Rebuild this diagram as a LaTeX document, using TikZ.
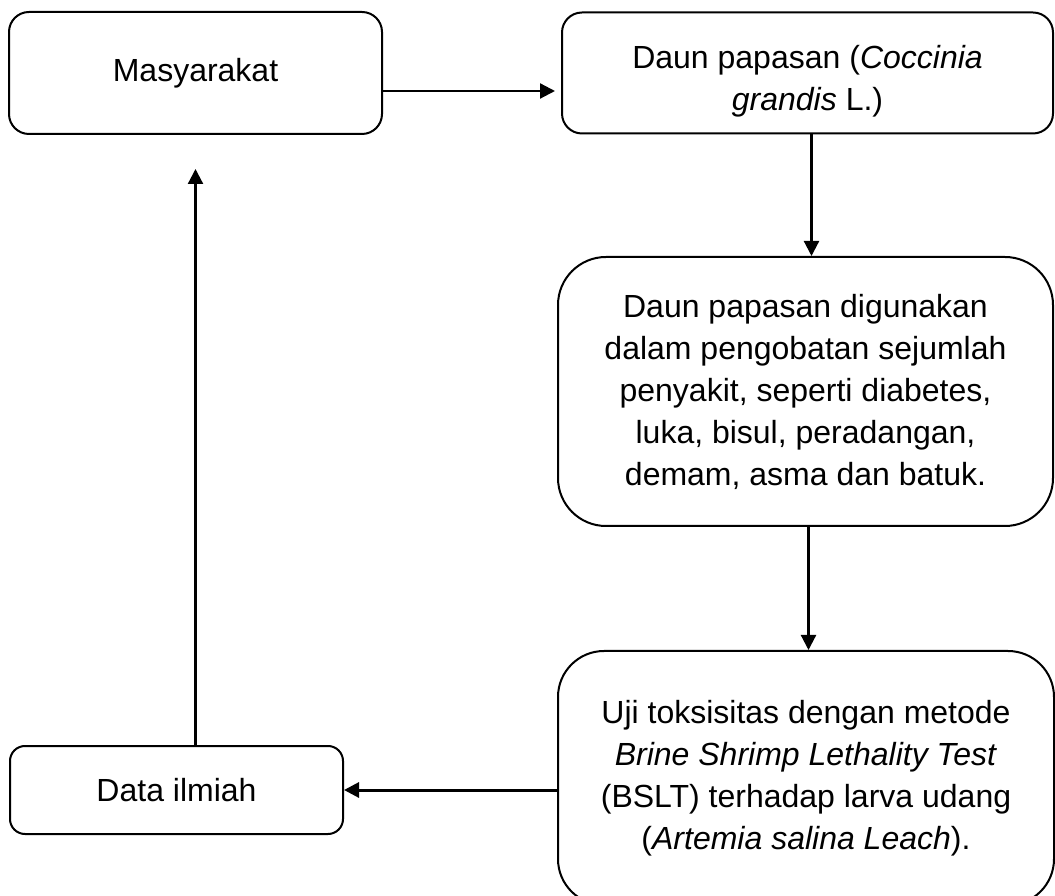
\documentclass[tikz,border=0pt]{standalone}
\usepackage{fontspec}
\setmainfont{Liberation Sans}
\usepackage{tikz}
\usetikzlibrary{arrows.meta,shapes}

\begin{document}
\begin{tikzpicture}[x=1pt,y=1pt]
				\tikzset{flowtext/.style={align=center,inner sep=0pt,font=\fontsize{32}{42}\selectfont}}
				\tikzset{flowbox/.style={flowtext,draw,line width=2pt}}
				\tikzset{flowarrow/.style={line width=2.2pt,-{Triangle[length=15pt,width=15pt]}}}
				\useasboundingbox (0,0) rectangle (1055,895);
				\node[flowbox,rounded corners=20pt,minimum width=373pt,minimum height=122pt] (masy) at (195.5,822) {Masyarakat};
				\node[flowbox,rounded corners=20pt,minimum width=491pt,minimum height=121pt] (daun) at (807.5,822) {};
				\node[flowtext] (dauntext) at ([yshift=-8pt]daun.center) {Daun papasan (\textit{Coccinia}\\\textit{grandis} L.)};
				\node[flowbox,rounded corners=48pt,minimum width=495pt,minimum height=269pt] (guna) at (805.5,503.5) {Daun papasan digunakan\\dalam pengobatan sejumlah\\penyakit, seperti diabetes,\\luka, bisul, peradangan,\\demam, asma dan batuk.};
				\node[flowbox,rounded corners=46pt,minimum width=496pt,minimum height=254pt] (uji) at (806,117) {Uji toksisitas dengan metode\\\textit{Brine Shrimp Lethality Test}\\(BSLT) terhadap larva udang\\(\textit{Artemia salina Leach}).};
				\node[flowbox,rounded corners=15pt,minimum width=333pt,minimum height=88pt] (data) at (176.5,105) {Data ilmiah};
				\coordinate (tipup) at ([yshift=-34pt]masy.south);
				\draw[flowarrow] ([yshift=-18pt]masy.east) -- ([xshift=-6pt,yshift=-18pt]daun.west);
				\draw[flowarrow] ([xshift=4pt]daun.south) -- ([xshift=4pt]daun.south |- guna.north);
				\draw[flowarrow] ([xshift=3pt]guna.south) -- ([xshift=3pt]guna.south |- uji.north);
				\draw[flowarrow,line width=3pt] (uji.west |- data.east) -- (data.east);
				\draw[flowarrow] (tipup |- data.north) -- (tipup);
\end{tikzpicture}
\end{document}
